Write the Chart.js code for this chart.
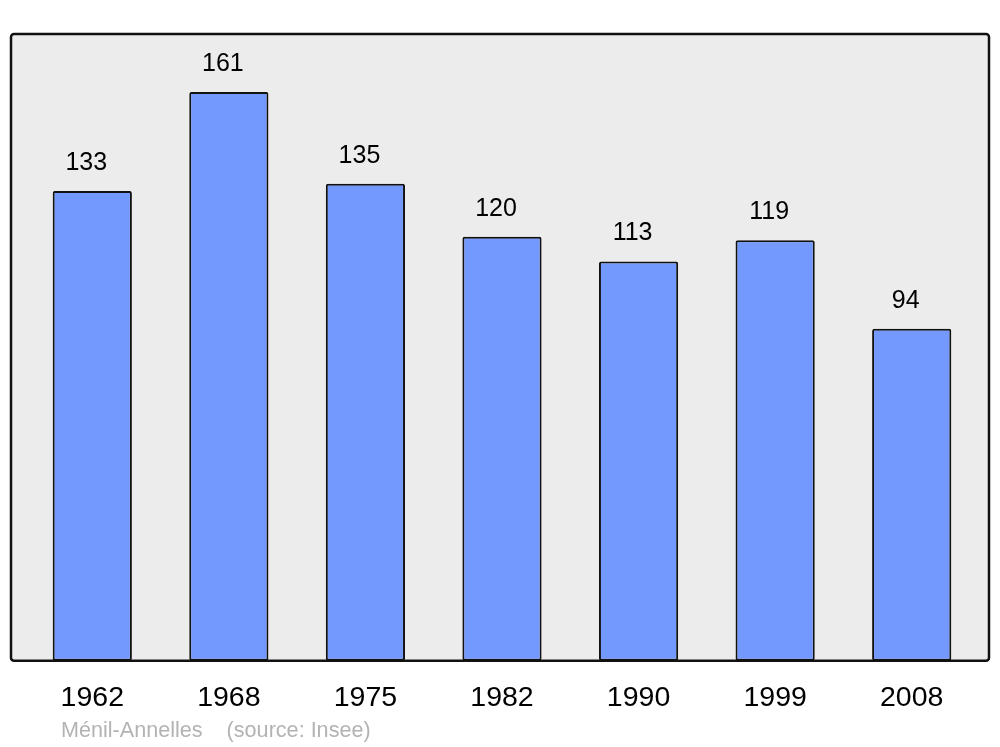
<!DOCTYPE html>
<html lang="fr">
<head>
    <meta charset="UTF-8">
    <title>Ménil-Annelles</title>
    <script src="https://cdn.jsdelivr.net/npm/chart.js"></script>
    <style>
        body { margin: 0; padding: 0; background: #fff; }
        #chart-container { width: 1000px; height: 747px; }
    </style>
</head>
<body>
    <div id="chart-container">
        <canvas id="myChart"></canvas>
    </div>

    <script>
        const years = ['1962', '1968', '1975', '1982', '1990', '1999', '2008'];
        const population = [133, 161, 135, 120, 113, 119, 94];
        const sourceText = 'Ménil-Annelles    (source: Insee)';

        // grey box behind the bars
        const framePlugin = {
            id: 'frame',
            beforeDraw(chart) {
                const { ctx, chartArea: a } = chart;
                const x = a.left - 13, y = a.top, w = a.right + 9 - x, h = a.bottom - a.top;
                ctx.save();
                ctx.beginPath();
                ctx.roundRect(x, y, w, h, 3);
                ctx.fillStyle = '#ececec';
                ctx.fill();
                ctx.restore();
            },
            afterDatasetsDraw(chart) {
                const { ctx, chartArea: a } = chart;
                const x = a.left - 13, y = a.top, w = a.right + 9 - x, h = a.bottom - a.top;
                ctx.save();
                ctx.beginPath();
                ctx.roundRect(x, y, w, h, 3);
                ctx.lineWidth = 2.5;
                ctx.strokeStyle = '#111';
                ctx.stroke();

                // values above bars
                ctx.fillStyle = '#000';
                ctx.font = '25px "Liberation Sans", Arial, sans-serif';
                ctx.textAlign = 'center';
                ctx.textBaseline = 'middle';
                chart.getDatasetMeta(0).data.forEach((bar, i) => {
                    ctx.fillText(String(population[i]), bar.x - 6, bar.y - 28);
                });

                // source line
                ctx.fillStyle = '#b3b3b3';
                ctx.font = '21.6px "Liberation Sans", Arial, sans-serif';
                ctx.textAlign = 'left';
                ctx.fillText(sourceText, 61, 731);
                ctx.restore();
            }
        };

        const ctx = document.getElementById('myChart').getContext('2d');
        new Chart(ctx, {
            type: 'bar',
            data: {
                labels: years,
                datasets: [{
                    data: population,
                    backgroundColor: '#7399ff',
                    borderColor: '#111',
                    borderWidth: 2,
                    borderRadius: 2,
                    borderSkipped: false,
                    barPercentage: 0.58,
                    categoryPercentage: 1
                }]
            },
            options: {
                responsive: true,
                maintainAspectRatio: false,
                animation: false,
                layout: { padding: { top: 34, left: 24, right: 20, bottom: 12 } },
                plugins: {
                    legend: { display: false },
                    tooltip: { enabled: false }
                },
                scales: {
                    x: {
                        grid: { display: false, drawTicks: false },
                        border: { display: false },
                        ticks: {
                            color: '#000',
                            padding: 20,
                            font: { size: 28.5, family: '"Liberation Sans", Arial, sans-serif' }
                        }
                    },
                    y: {
                        display: false,
                        min: 0,
                        max: 177.4
                    }
                }
            },
            plugins: [framePlugin]
        });
    </script>
</body>
</html>
